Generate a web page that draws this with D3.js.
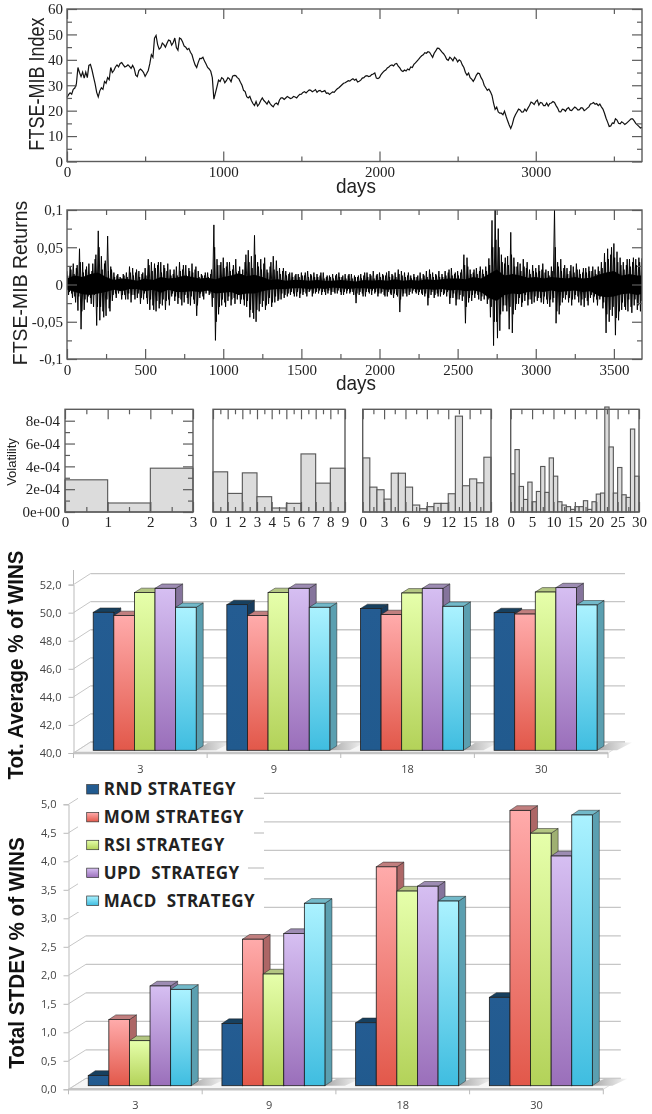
<!DOCTYPE html>
<html>
<head>
<meta charset="utf-8">
<script src="https://cdnjs.cloudflare.com/ajax/libs/d3/7.8.5/d3.min.js"></script>
<style>
  html, body { margin: 0; padding: 0; background: #fff; }
  svg { display: block; filter: blur(0.35px); }
</style>
</head>
<body>
<svg id="chart" width="652" height="1114"></svg>
<script>
// FTSE-MIB index, one reading every 10 days
const indexStep = 10;
const indexValues = [
  25.2,26.3,27,26.5,28.4,28.9,30.5,37,35,33.4,35.2,32.8,35.2,33,37.8,38.2,36,33.2,30.5,27.2,
  25.4,27.8,29,28.4,31.5,30.8,33,32.2,37,35,35.8,37.2,38,37.2,38.6,38.9,38,37.2,37.5,38,
  37.4,36.6,37.8,36.6,34,33.4,35.8,36.4,35.8,35,33.5,34.6,35.8,38.5,42,41,48.5,49.6,46,44.2,
  44.8,46.6,46,45,46.5,47.8,47.5,45.8,46.8,48.6,44.8,43.8,48.6,48.2,47,45.4,45,44,44.5,43,
  42,39.8,38,37,39,40.6,40.5,41,39.5,38.4,37,36.4,35.5,33,24.5,27,29.5,32,31.5,33,
  32.5,31,31.8,33,32.5,31.4,33.6,33.9,33.8,33,32.5,31.2,30,28,27.5,25.5,25,25.6,24,22.8,
  22,23.6,21.8,22.6,24,25,24,23.4,22.6,23.8,22.8,22,21.5,22.6,23,22.4,24.2,25,25,24.4,
  25,25.6,25.2,24.8,25,25.6,25.4,25,25.8,26.4,26.5,27.2,27.5,27,27.6,28.2,28,27.4,27.8,28.3,
  27.2,27.8,28,27.4,27.6,27.9,26.8,27,26.4,26.9,27.4,27.2,28,28.6,29,29.6,30.2,30.8,31,31.4,
  31.8,31.6,32.2,32.6,32,32.4,31.3,31.6,32,32.8,33,33.6,33.8,33.4,33.6,34.2,34.4,34.8,32.8,32.6,
  33,34.2,35,35.6,36,36.8,37.2,37.8,38,37.6,38.4,38.6,37.5,36.8,35.8,35.4,36,35.6,36.4,36,
  37.2,37,38.2,38.8,39.5,40.2,41,41.6,42,42.8,42.6,43.2,43,42,41,42.6,43.5,44.6,44.5,43.8,
  43,42.4,41.5,40.2,39.8,41,40.5,39.6,41,40.4,39.2,40,39.5,38,37,35,34,34.8,33,32.4,
  31.5,32.6,34,34.8,34.5,33,32,30,29,28,28.5,27.4,26,23,20.5,21.4,19.5,19,19,18.4,
  19.8,17.8,16,14.4,13,14.6,17,18.4,19.5,20.6,20.3,19.4,19.5,20.6,19.8,21,22,23.4,23,22.4,
  23.6,24.2,22.2,23.2,23,22,22,23,21.8,22.8,23,23.6,23.2,22,21,19.6,19.5,20.6,20.4,19.8,
  20.8,21.2,20.2,20,20.8,21.4,21,20.2,20.4,21.2,21,20,20.4,21,21.5,22.6,22.8,23.2,22.5,22.8,
  22,22.6,21.5,20.6,19,17,15.5,13.8,14,15.2,15,16.8,16.3,15,14.8,15.6,15.2,14.6,15,15.6,
  16.2,16.8,16.8,16,15,14.4,13.8,13.2,13.4
];

// FTSE-MIB returns: biggest readings of each 20 day stretch, two passes, plus the solid core
const returnsStep = 20;
const coreStep = 50;
const returnsHigh = [
  .018,.024,.028,.022,.048,.03,.02,.028,.018,.034,
  .072,.038,.028,.065,.024,.016,.012,.01,.014,.016,
  .024,.022,.016,.018,.014,.022,.034,.03,.028,.026,
  .03,.026,.018,.02,.014,.024,.03,.02,.026,.022,
  .028,.02,.018,.014,.012,.016,.014,.08,.034,.026,
  .036,.024,.03,.02,.034,.018,.014,.03,.046,.038,
  .066,.03,.034,.028,.02,.024,.038,.032,.022,.018,
  .018,.014,.016,.012,.014,.016,.012,.018,.014,.016,
  .014,.012,.016,.01,.012,.014,.012,.016,.01,.014,
  .012,.014,.012,.01,.014,.012,.016,.014,.018,.012,
  .016,.014,.012,.018,.014,.016,.02,.018,.016,.012,
  .012,.014,.01,.016,.014,.018,.02,.016,.014,.018,
  .014,.018,.016,.022,.014,.018,.016,.04,.036,.02,
  .016,.022,.018,.02,.024,.035,.086,.105,.075,.04,
  .028,.038,.07,.036,.024,.028,.034,.022,.02,.026,
  .022,.026,.02,.016,.018,.024,.1,.03,.034,.022,
  .022,.018,.024,.028,.02,.016,.022,.024,.018,.02,
  .024,.03,.042,.048,.04,.055,.044,.036,.03,.026,
  .034,.03,.034,.036,.035
];
const returnsLow = [
  -.014,-.012,-.016,-.035,-.06,-.034,-.024,-.018,-.03,-.055,
  -.048,-.036,-.042,-.032,-.022,-.012,-.012,-.02,-.014,-.02,
  -.024,-.014,-.018,-.026,-.02,-.018,-.034,-.028,-.036,-.032,
  -.028,-.034,-.02,-.016,-.022,-.026,-.02,-.024,-.018,-.028,
  -.02,-.042,-.018,-.016,-.012,-.014,-.03,-.075,-.04,-.028,
  -.024,-.022,-.028,-.018,-.02,-.026,-.02,-.03,-.044,-.038,
  -.05,-.036,-.03,-.034,-.026,-.03,-.024,-.022,-.02,-.018,
  -.016,-.014,-.012,-.016,-.018,-.014,-.012,-.01,-.016,-.012,
  -.012,-.014,-.01,-.012,-.014,-.01,-.012,-.01,-.014,-.012,
  -.012,-.01,-.025,-.014,-.012,-.016,-.01,-.014,-.012,-.016,
  -.012,-.014,-.016,-.012,-.018,-.014,-.037,-.016,-.012,-.014,
  -.012,-.01,-.014,-.012,-.016,-.028,-.014,-.018,-.012,-.016,
  -.014,-.016,-.026,-.018,-.028,-.02,-.022,-.052,-.024,-.022,
  -.018,-.014,-.022,-.02,-.026,-.044,-.082,-.05,-.062,-.036,
  -.028,-.06,-.065,-.034,-.026,-.03,-.022,-.028,-.02,-.024,
  -.022,-.018,-.026,-.02,-.03,-.024,-.052,-.04,-.024,-.02,
  -.024,-.028,-.02,-.016,-.028,-.03,-.022,-.018,-.024,-.02,
  -.02,-.032,-.065,-.05,-.042,-.068,-.048,-.034,-.03,-.036,
  -.03,-.028,-.034,-.036,-.04
];
const returnsHigh2 = [
  .012,.02,.014,.026,.03,.016,.024,.012,.028,.04,
  .05,.02,.032,.018,.02,.01,.014,.008,.012,.01,
  .016,.012,.02,.01,.016,.012,.026,.018,.022,.03,
  .016,.022,.028,.012,.02,.012,.018,.026,.012,.018,
  .016,.024,.01,.012,.016,.01,.02,.05,.026,.03,
  .022,.03,.018,.026,.016,.024,.02,.04,.03,.022,
  .04,.024,.02,.036,.016,.03,.02,.018,.014,.022,
  .012,.016,.01,.014,.01,.012,.016,.01,.012,.01,
  .01,.016,.008,.012,.01,.008,.014,.01,.012,.008,
  .014,.008,.01,.012,.008,.016,.01,.012,.008,.014,
  .01,.012,.016,.01,.012,.01,.014,.012,.01,.016,
  .008,.01,.012,.008,.012,.01,.014,.01,.012,.01,
  .01,.012,.02,.012,.016,.012,.02,.026,.024,.014,
  .02,.014,.024,.014,.018,.026,.05,.06,.05,.03,
  .036,.026,.04,.024,.03,.018,.024,.03,.014,.018,
  .016,.018,.028,.02,.012,.018,.05,.024,.018,.026,
  .014,.026,.016,.02,.014,.022,.016,.018,.024,.014,
  .018,.022,.03,.034,.05,.036,.03,.026,.02,.034,
  .024,.036,.026,.03,.028
];
const returnsLow2 = [
  -.01,-.018,-.024,-.016,-.036,-.02,-.016,-.026,-.014,-.03,
  -.03,-.044,-.02,-.036,-.014,-.018,-.008,-.014,-.02,-.012,
  -.014,-.02,-.012,-.018,-.012,-.026,-.02,-.034,-.022,-.026,
  -.02,-.022,-.028,-.012,-.016,-.018,-.028,-.014,-.026,-.016,
  -.026,-.028,-.012,-.02,-.008,-.012,-.018,-.05,-.03,-.02,
  -.03,-.016,-.02,-.026,-.014,-.02,-.028,-.022,-.034,-.046,
  -.034,-.026,-.022,-.028,-.018,-.024,-.016,-.02,-.012,-.014,
  -.012,-.01,-.016,-.01,-.012,-.01,-.016,-.008,-.012,-.01,
  -.008,-.01,-.014,-.008,-.01,-.012,-.008,-.014,-.01,-.008,
  -.01,-.014,-.012,-.01,-.016,-.01,-.012,-.008,-.01,-.012,
  -.01,-.016,-.01,-.014,-.012,-.016,-.02,-.012,-.016,-.01,
  -.008,-.012,-.01,-.014,-.012,-.018,-.01,-.014,-.016,-.01,
  -.012,-.01,-.018,-.012,-.02,-.014,-.016,-.03,-.018,-.014,
  -.012,-.02,-.016,-.014,-.02,-.03,-.05,-.072,-.04,-.028,
  -.036,-.03,-.04,-.026,-.018,-.024,-.014,-.02,-.026,-.016,
  -.018,-.024,-.016,-.026,-.02,-.018,-.036,-.028,-.018,-.014,
  -.018,-.02,-.014,-.024,-.02,-.018,-.028,-.014,-.016,-.028,
  -.016,-.024,-.04,-.034,-.03,-.045,-.036,-.024,-.034,-.02,
  -.038,-.02,-.028,-.022,-.03
];
const returnsCoreHigh = [
  .008,.012,.01,.014,.016,.01,.006,.008,.007,.005,
  .008,.006,.01,.008,.009,.012,.01,.008,.009,.007,
  .01,.012,.015,.011,.013,.01,.006,.007,.005,.006,
  .006,.005,.006,.005,.005,.006,.005,.004,.006,.005,
  .006,.005,.007,.005,.006,.005,.007,.006,.007,.008,
  .008,.007,.01,.008,.014,.02,.012,.014,.012,.009,
  .01,.008,.01,.009,.008,.01,.008,.009,.013,.016,
  .018,.012,.014,.012,.012
];
const returnsCoreLow = [
  -.007,-.01,-.013,-.014,-.012,-.01,-.007,-.009,-.006,-.006,
  -.009,-.007,-.011,-.007,-.01,-.01,-.009,-.01,-.008,-.012,
  -.011,-.01,-.014,-.012,-.012,-.009,-.007,-.006,-.006,-.005,
  -.005,-.006,-.005,-.006,-.004,-.005,-.006,-.005,-.005,-.006,
  -.005,-.007,-.006,-.006,-.005,-.007,-.006,-.007,-.006,-.008,
  -.007,-.009,-.008,-.01,-.018,-.022,-.014,-.012,-.013,-.01,
  -.009,-.01,-.008,-.01,-.009,-.008,-.01,-.009,-.015,-.017,
  -.016,-.013,-.012,-.014,-.012
];

// Volatility histograms, one array per number of slices
const volatility3 = [2.82e-4, 0.79e-4, 3.84e-4];
const volatility9 = [3.52e-4, 1.63e-4, 3.43e-4, 1.34e-4, 0.35e-4, 0.76e-4, 5.09e-4, 2.53e-4, 3.84e-4];
const volatility18 = [4.74e-4, 2.18e-4, 1.95e-4, 1.13e-4, 3.4e-4, 3.4e-4, 2.18e-4, 0.61e-4, 0.29e-4,
  0.47e-4, 0.76e-4, 0.76e-4, 1.6e-4, 8.4e-4, 2.3e-4, 2.9e-4, 2.56e-4, 4.8e-4];
const volatility30 = [3.35e-4, 5.47e-4, 2.24e-4, 1.1e-4, 2.62e-4, 0.9e-4, 1.8e-4, 3.99e-4, 1.72e-4, 4.74e-4,
  3.14e-4, 0.9e-4, 0.61e-4, 0.47e-4, 0.23e-4, 0.47e-4, 0.47e-4, 0.99e-4, 0.23e-4, 0.9e-4,
  1.57e-4, 1.66e-4, 9.2e-4, 5.7e-4, 1.66e-4, 3.9e-4, 1.51e-4, 1.28e-4, 7.27e-4, 3.14e-4];

// Strategy bars
const slices = ["3", "9", "18", "30"];
const strategies = ["RND", "MOM", "RSI", "UPD", "MACD"];
const legendLabels = ["RND STRATEGY", "MOM STRATEGY", "RSI STRATEGY", "UPD  STRATEGY", "MACD  STRATEGY"];
const avgWins = [
  [49.83, 49.6, 51.24, 51.54, 50.19],
  [50.38, 49.6, 51.24, 51.54, 50.19],
  [50.1, 49.67, 51.21, 51.54, 50.26],
  [49.81, 49.71, 51.28, 51.59, 50.36]
];
const stdevWins = [
  [0.18, 1.16, 0.79, 1.75, 1.69],
  [1.09, 2.57, 1.96, 2.67, 3.2],
  [1.105, 3.84, 3.415, 3.5, 3.24],
  [1.55, 4.83, 4.43, 4.03, 4.75]
];
const avgTicks = [40, 42, 44, 46, 48, 50, 52];
const stdevTicks = [0, 0.5, 1, 1.5, 2, 2.5, 3, 3.5, 4, 4.5, 5];

const colours = {
  RND:  { hi: "#245c92", lo: "#215a8e", top: "#17405f", side: "#163c5e" },
  MOM:  { hi: "#ffabab", lo: "#e2584a", top: "#c17f7f", side: "#ad6666" },
  RSI:  { hi: "#e6ffab", lo: "#b3d259", top: "#b3c682", side: "#9fb072" },
  UPD:  { hi: "#d6bff2", lo: "#9a6fba", top: "#9d8cb3", side: "#85749c" },
  MACD: { hi: "#abf2ff", lo: "#3fbde0", top: "#72b9c9", side: "#5b9fb0" }
};

const serif = "'Liberation Serif', serif";
const sans = "'Liberation Sans', sans-serif";
const open = "'Open Sans', sans-serif";
const frameColour = "#5c5c5c";

const svg = d3.select("#chart");
const defs = svg.append("defs");

strategies.forEach((s) => {
  const grad = defs.append("linearGradient").attr("id", `grad-${s}`)
    .attr("x1", 0).attr("y1", 0).attr("x2", 0).attr("y2", 1);
  grad.append("stop").attr("offset", 0).attr("stop-color", colours[s].hi);
  grad.append("stop").attr("offset", 1).attr("stop-color", colours[s].lo);
});
const shadow = defs.append("linearGradient").attr("id", "floor-shadow");
shadow.append("stop").attr("offset", 0).attr("stop-color", "#a8a8a8");
shadow.append("stop").attr("offset", 1).attr("stop-color", "#f6f6f6");

// ticks on all four sides, pointing in, the way xmgrace does it
function frameAxes(g, x, y, o) {
  const b = y.range()[0], t = y.range()[1], l = x.range()[0], r = x.range()[1];
  const axes = [
    [d3.axisBottom(x), `translate(0,${b})`, o.xMajor, o.xMinor, true],
    [d3.axisTop(x), `translate(0,${t})`, o.xMajor, o.xMinor, false]
  ];
  if (o.yMajor) {
    axes.push([d3.axisLeft(y), `translate(${l},0)`, o.yMajor, o.yMinor, true]);
    axes.push([d3.axisRight(y), `translate(${r},0)`, o.yMajor, o.yMinor, false]);
  }
  axes.forEach(([axis, tr, major, minor, labelled], i) => {
    const isX = i < 2;
    const fmt = isX ? String : o.yFormat;
    g.append("g").attr("transform", tr)
      .call(axis.tickValues(minor).tickSize(-o.minorLen).tickFormat(""))
      .call((s) => s.select(".domain").remove());
    const maj = g.append("g").attr("transform", tr)
      .call(axis.tickValues(major).tickSize(-o.majorLen).tickPadding(isX ? o.pad : o.yPad)
        .tickFormat(labelled ? fmt : ""));
    maj.select(".domain").remove();
    maj.selectAll("text").attr("font-family", serif).attr("font-size", o.fontSize).attr("fill", "#222");
  });
  g.selectAll("line").attr("stroke", frameColour).attr("stroke-width", 1.2);
  g.append("rect").attr("x", l).attr("y", t).attr("width", r - l).attr("height", b - t)
    .attr("fill", "none").attr("stroke", frameColour).attr("stroke-width", 1.4);
}

// stretch squeezes the text along its own direction, the source picture was resized unevenly
function addLabel(text, x, y, size, rotate, stretch, family, weight, fill) {
  svg.append("text")
    .attr("transform", `translate(${x},${y})` + (rotate ? " rotate(-90)" : "") + ` scale(${stretch || 1},1)`)
    .attr("text-anchor", "middle")
    .attr("font-family", family || sans)
    .attr("font-size", size)
    .attr("font-weight", weight || "normal")
    .attr("fill", fill || "#222")
    .text(text);
}

const comma = (v) => String(v).replace(".", ",");

// index line
{
  const x = d3.scaleLinear().domain([0, 3680]).range([67, 642]);
  const y = d3.scaleLinear().domain([0, 60]).range([161.5, 9]);
  svg.append("g").append("path")
    .attr("d", d3.line().x((d, i) => x(i * indexStep)).y((d) => y(d))(indexValues))
    .attr("fill", "none").attr("stroke", "#111").attr("stroke-width", 1.2);
  frameAxes(svg.append("g"), x, y, {
    xMajor: [0, 1000, 2000, 3000], xMinor: [500, 1500, 2500, 3500],
    yMajor: [0, 10, 20, 30, 40, 50, 60], yMinor: [5, 15, 25, 35, 45, 55],
    yFormat: String, majorLen: 10, minorLen: 5, pad: 5, yPad: 4, fontSize: 15
  });
  addLabel("FTSE-MIB Index", 44, 84, 22, true, 0.82);
  addLabel("days", 356, 193, 20, false, 0.95);
}

// returns, zigzag between the high and the low of each stretch
{
  const x = d3.scaleLinear().domain([0, 3680]).range([67, 642]);
  const y = d3.scaleLinear().domain([-0.1, 0.1]).range([359, 210]);
  const zigzag = (hi, lo, shift) => {
    const pts = [];
    hi.forEach((h, i) => {
      pts.push([i * returnsStep + shift, h]);
      pts.push([i * returnsStep + shift + returnsStep / 2, lo[i]]);
    });
    return d3.line().x((d) => x(d[0])).y((d) => y(d[1]))(pts);
  };
  defs.append("clipPath").attr("id", "returns-clip").append("rect")
    .attr("x", 67).attr("y", 210).attr("width", 575).attr("height", 149);
  const g = svg.append("g").attr("clip-path", "url(#returns-clip)");
  g.append("path")
    .attr("d", zigzag(returnsHigh, returnsLow, 0))
    .attr("fill", "none").attr("stroke", "#000").attr("stroke-width", 0.95);
  g.append("path")
    .attr("d", zigzag(returnsHigh2, returnsLow2, 5))
    .attr("fill", "none").attr("stroke", "#000").attr("stroke-width", 0.95);
  g.append("path")
    .attr("d", d3.area().x((d, i) => x(i * coreStep)).y0((d, i) => y(returnsCoreLow[i])).y1((d) => y(d))(returnsCoreHigh))
    .attr("fill", "#000");
  frameAxes(svg.append("g"), x, y, {
    xMajor: d3.range(0, 3680, 500), xMinor: d3.range(250, 3680, 500),
    yMajor: [-0.1, -0.05, 0, 0.05, 0.1], yMinor: [-0.075, -0.025, 0.025, 0.075],
    yFormat: comma, majorLen: 10, minorLen: 5, pad: 5, yPad: 4, fontSize: 15
  });
  addLabel("FTSE-MIB Returns", 27, 283, 20.5, true, 0.95);
  addLabel("days", 356, 390, 20, false, 0.95);
}

// volatility histograms
const histPanels = [
  { data: volatility3, left: 65, right: 193, major: [0, 1, 2, 3], minor: [0.5, 1.5, 2.5], yTicks: true },
  { data: volatility9, left: 213, right: 345, major: d3.range(0, 10), minor: d3.range(0.5, 9, 1) },
  { data: volatility18, left: 362.7, right: 491, major: d3.range(0, 19, 3), minor: d3.range(1.5, 18, 3) },
  { data: volatility30, left: 510.7, right: 639, major: d3.range(0, 31, 5), minor: d3.range(2.5, 30, 5) }
];
histPanels.forEach((p) => {
  const x = d3.scaleLinear().domain([0, p.data.length]).range([p.left, p.right]);
  const y = d3.scaleLinear().domain([0, 9e-4]).range([512, 409.3]);
  svg.append("g").selectAll("rect").data(p.data).enter().append("rect")
    .attr("x", (d, i) => x(i))
    .attr("y", (d) => y(d))
    .attr("width", x(1) - x(0))
    .attr("height", (d) => y(0) - y(d))
    .attr("fill", "#dcdcdc")
    .attr("stroke", "#555")
    .attr("stroke-width", 1.1);
  frameAxes(svg.append("g"), x, y, {
    xMajor: p.major, xMinor: p.minor,
    yMajor: p.yTicks ? [0, 2e-4, 4e-4, 6e-4, 8e-4] : null,
    yMinor: [1e-4, 3e-4, 5e-4, 7e-4],
    yFormat: (v) => v === 0 ? "0e+00" : `${Math.round(v * 1e4)}e-04`,
    majorLen: 10, minorLen: 5, pad: 4, yPad: 5, fontSize: 15
  });
});
addLabel("Volatility", 16, 462, 13, true);

// 3D style bar panel
function bars3d(o) {
  const g = svg.append("g");
  const { backDx, backDy } = o;
  const x = d3.scaleBand().domain(slices).range([o.left, o.right]);
  const inner = d3.scaleBand().domain(strategies).range([0, 103]);
  const yTick = d3.scaleLinear().domain(o.domain).range(o.tickRange);
  const yBar = d3.scaleLinear().domain(o.domain)
    .range([o.barBase, o.barBase - (o.tickRange[0] - o.tickRange[1])]);

  // floor
  const floorFront = yTick(o.domain[0]);
  const floorBack = floorFront - backDy;
  g.append("polygon")
    .attr("points", [[o.left, floorFront], [o.left + backDx, floorBack], [o.right + backDx, floorBack], [o.right, floorFront]].join(" "))
    .attr("fill", "#f6f6f6").attr("stroke", "#d4d4d4").attr("stroke-width", 0.8);

  // back wall lines and the diagonals down the side wall
  g.selectAll(".grid").data(o.ticks).enter().append("line")
    .attr("x1", o.left + backDx).attr("x2", o.right + backDx)
    .attr("y1", (d) => yTick(d) - backDy).attr("y2", (d) => yTick(d) - backDy)
    .attr("stroke", "#c6c6c6").attr("stroke-width", 1.3);
  g.selectAll(".diag").data(o.ticks).enter().append("line")
    .attr("x1", o.left).attr("x2", o.left + backDx)
    .attr("y1", (d) => yTick(d)).attr("y2", (d) => yTick(d) - backDy)
    .attr("stroke", "#c6c6c6").attr("stroke-width", 1);

  const axisG = g.append("g").attr("transform", `translate(${o.left},0)`)
    .call(d3.axisLeft(yTick).tickValues(o.ticks).tickSize(5).tickPadding(7)
      .tickFormat((v) => comma(d3.format(".1f")(v))));
  axisG.selectAll("line,path").attr("stroke", "#bbb");
  axisG.selectAll("text").attr("font-family", open).attr("font-size", 11).attr("fill", "#444");
  g.append("line").attr("x1", o.left).attr("x2", o.left)
    .attr("y1", o.tickRange[1]).attr("y2", o.axisTop)
    .attr("stroke", "#bbb");

  // front edge of the floor, with its tick per category
  g.append("line").attr("x1", o.left).attr("x2", o.right).attr("y1", floorFront).attr("y2", floorFront)
    .attr("stroke", "#c4c4c4").attr("stroke-width", 2.4);
  x.domain().concat("end").forEach((c) => {
    const tx = c === "end" ? o.right : x(c);
    g.append("line").attr("x1", tx).attr("x2", tx).attr("y1", floorFront).attr("y2", floorFront + 5)
      .attr("stroke", "#bbb").attr("stroke-width", 1);
    if (c !== "end") {
      g.append("text").attr("x", x(c) + x.bandwidth() / 2).attr("y", floorFront + 20)
        .attr("text-anchor", "middle").attr("font-family", open).attr("font-size", 11)
        .attr("fill", "#444").text(c);
    }
  });

  const d = o.depth;
  slices.forEach((c, i) => {
    const x0 = x(c) + (x.bandwidth() - 103) / 2 + 4.4;
    const grp = g.append("g");
    const rgt = x0 + 103;
    // shadow next to the group
    grp.append("polygon")
      .attr("points", [[rgt, o.barBase], [rgt + d[0], o.barBase - d[1]], [rgt + d[0] + 5, floorBack + 0.5], [rgt + d[0] + 28, floorBack + 0.5], [rgt + 20, o.barBase]].join(" "))
      .attr("fill", "url(#floor-shadow)");
    o.values[i].forEach((v, j) => {
      const s = strategies[j];
      const bx = x0 + inner(s), bw = inner.bandwidth(), by = yBar(v);
      grp.append("polygon")
        .attr("points", [[bx + bw, by], [bx + bw + d[0], by - d[1]], [bx + bw + d[0], o.barBase - d[1]], [bx + bw, o.barBase]].join(" "))
        .attr("fill", colours[s].side).attr("stroke", "#222").attr("stroke-width", 0.5);
      grp.append("polygon")
        .attr("points", [[bx, by], [bx + d[0], by - d[1]], [bx + bw + d[0], by - d[1]], [bx + bw, by]].join(" "))
        .attr("fill", colours[s].top).attr("stroke", "#222").attr("stroke-width", 0.5);
      grp.append("rect")
        .attr("x", bx).attr("y", by).attr("width", bw).attr("height", o.barBase - by)
        .attr("fill", `url(#grad-${s})`).attr("stroke", "#1d1d1d").attr("stroke-width", 0.8);
    });
  });
}

bars3d({
  values: avgWins, domain: [40, 52], ticks: avgTicks,
  left: 73.5, right: 608, tickRange: [753, 584.6], axisTop: 570, barBase: 750.3,
  backDx: 17, backDy: 11, depth: [7, 4.4]
});
addLabel("Tot. Average % of WINS", 23, 665, 22, true, 0.93, sans, "bold", "#111");

bars3d({
  values: stdevWins, domain: [0, 5], ticks: stdevTicks,
  left: 68.5, right: 603.3, tickRange: [1089.3, 804.3], axisTop: 804.3, barBase: 1085.7,
  backDx: 17.5, backDy: 11, depth: [7, 4.7]
});
addLabel("Total STDEV % of WINS", 24, 953, 22, true, 0.94, sans, "bold", "#111");

// legend sits on a white patch pasted over the wall lines
svg.append("rect").attr("x", 78).attr("y", 775).attr("width", 186).attr("height", 137).attr("fill", "#fff");
[[254, 264, 798.3], [254, 264, 833], [248, 264, 868]].forEach((s) => {
  svg.append("line").attr("x1", s[0]).attr("x2", s[1]).attr("y1", s[2]).attr("y2", s[2])
    .attr("stroke", "#c6c6c6").attr("stroke-width", 1.3);
});
const legendY = d3.scalePoint().domain(strategies).range([789.3, 900.7]);
strategies.forEach((s, i) => {
  svg.append("rect").attr("x", 86.7).attr("y", legendY(s) - 4.7).attr("width", 12).attr("height", 9.4)
    .attr("fill", `url(#grad-${s})`).attr("stroke", "#333").attr("stroke-width", 0.7);
  svg.append("text").attr("x", 103.7).attr("y", legendY(s) + 6)
    .attr("font-family", open).attr("font-weight", "bold").attr("font-size", 17)
    .attr("letter-spacing", 0.5)
    .style("white-space", "pre")
    .attr("fill", "#222").text(legendLabels[i]);
});
</script>
</body>
</html>
